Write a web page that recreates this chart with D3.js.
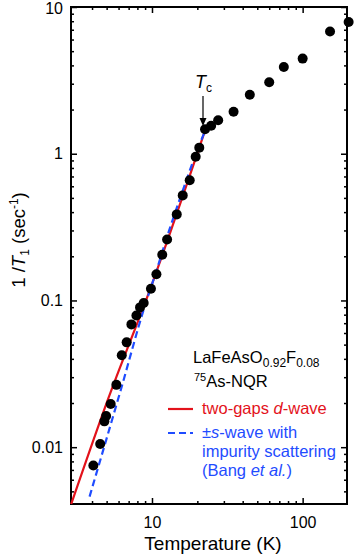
<!DOCTYPE html>
<html>
<head>
<meta charset="utf-8">
<script src="https://cdn.jsdelivr.net/npm/d3@7"></script>
<style>
    body { margin: 0; background: #fff; }
    svg { display: block; font-family: "Liberation Sans", Arial, sans-serif; }
</style>
</head>
<body>
<div id="visualisatie"></div>
<script>
// measured 1/T1 points
var temps = [4.08, 4.53, 4.83, 4.96, 5.32, 5.8, 6.3, 6.79, 7.3, 7.88, 8.33, 8.81, 9.84, 10.7, 11.7,
    12.6, 14.6, 16.0, 17.8, 19.5, 20.6, 22.5, 24.7, 27.5, 34.8, 44.6, 60, 75, 100, 152, 202];
var rates = [0.0075, 0.0105, 0.015, 0.0163, 0.0197, 0.0266, 0.0423, 0.0518, 0.0687, 0.079, 0.0897, 0.096, 0.12, 0.151, 0.205,
    0.26, 0.386, 0.52, 0.66, 0.955, 1.1, 1.47, 1.55, 1.69, 1.93, 2.52, 3.07, 3.9, 4.45, 6.8, 7.9];

// two-gaps d-wave fit (red)
var redT = [2.91, 5.13, 9.74, 20.6, 22.3];
var redRate = [0.0041, 0.0215, 0.12, 1.1, 1.4];

// +-s-wave with impurity scattering (blue dashed)
var blueT = [3.85, 6.2, 9, 10.5, 13, 16, 19, 22.3];
var blueRate = [0.0046, 0.0245, 0.093, 0.15, 0.3, 0.56, 0.92, 1.4];

var xMajor = [10, 100];
var xMinor = [4, 5, 6, 7, 8, 9, 20, 30, 40, 50, 60, 70, 80, 90];
var yMajor = [0.01, 0.1, 1, 10];
var yMinor = [0.005, 0.006, 0.007, 0.008, 0.009, 0.02, 0.03, 0.04, 0.05, 0.06, 0.07, 0.08, 0.09,
    0.2, 0.3, 0.4, 0.5, 0.6, 0.7, 0.8, 0.9, 2, 3, 4, 5, 6, 7, 8, 9];

(function () {
    "use strict";

    var width = 354, height = 556,
        left = 71, right = 347, top = 7, bottom = 504;

    var svg = d3.select('#visualisatie').append('svg')
        .attr('width', width)
        .attr('height', height);

    var x = d3.scaleLog().domain([2.9, 197]).range([left, right]);
    var y = d3.scaleLog().domain([0.0041, 10]).range([bottom, top]);

    // axes with ticks pointing inward
    function addAxis(axis, tx, ty) {
        var g = svg.append('g')
            .attr('transform', 'translate(' + tx + ',' + ty + ')')
            .call(axis);
        g.select('.domain').remove();
        g.selectAll('.tick line').attr('stroke', '#000').attr('stroke-width', 1.5);
        g.selectAll('.tick text').attr('fill', '#000').style('font-size', '16px');
        return g;
    }

    addAxis(d3.axisBottom(x).tickValues(xMajor).tickSizeInner(-6).tickSizeOuter(0).tickPadding(13).tickFormat(d3.format('d')), 0, bottom);
    addAxis(d3.axisBottom(x).tickValues(xMinor).tickSizeInner(-3).tickSizeOuter(0).tickFormat(''), 0, bottom);
    addAxis(d3.axisTop(x).tickValues(xMajor).tickSizeInner(-6).tickSizeOuter(0).tickFormat(''), 0, top);
    addAxis(d3.axisTop(x).tickValues(xMinor).tickSizeInner(-3).tickSizeOuter(0).tickFormat(''), 0, top);

    var yl = addAxis(d3.axisLeft(y).tickValues(yMajor).tickSizeInner(-6).tickSizeOuter(0).tickPadding(8).tickFormat(d => String(d)), left, 0);
    // keep the top label inside the picture
    yl.selectAll('.tick text').filter(d => d === 10).attr('dy', '0.42em');
    addAxis(d3.axisLeft(y).tickValues(yMinor).tickSizeInner(-3).tickSizeOuter(0).tickFormat(''), left, 0);
    addAxis(d3.axisRight(y).tickValues(yMajor).tickSizeInner(-6).tickSizeOuter(0).tickFormat(''), right, 0);
    addAxis(d3.axisRight(y).tickValues(yMinor).tickSizeInner(-3).tickSizeOuter(0).tickFormat(''), right, 0);

    // frame
    svg.append('rect')
        .attr('x', left).attr('y', top)
        .attr('width', right - left).attr('height', bottom - top)
        .attr('fill', 'none')
        .attr('stroke', '#000')
        .attr('stroke-width', 2);

    // fit curves
    var line = d3.line()
        .x(d => x(d[0]))
        .y(d => y(d[1]))
        .curve(d3.curveMonotoneX);

    svg.append('path')
        .datum(d3.zip(redT, redRate))
        .attr('d', line)
        .attr('fill', 'none')
        .attr('stroke', '#e3121b')
        .attr('stroke-width', 2.2);

    svg.append('path')
        .datum(d3.zip(blueT, blueRate))
        .attr('d', line)
        .attr('fill', 'none')
        .attr('stroke', '#1f4cff')
        .attr('stroke-width', 2.2)
        .attr('stroke-dasharray', '7,4');

    // data points
    svg.append('g').selectAll('circle')
        .data(d3.zip(temps, rates))
        .enter().append('circle')
        .attr('cx', d => x(d[0]))
        .attr('cy', d => y(d[1]))
        .attr('r', 5)
        .attr('fill', '#000');

    // Tc marker
    var tc = svg.append('text')
        .attr('x', 195).attr('y', 88)
        .style('font-size', '18px');
    tc.append('tspan').style('font-style', 'italic').text('T');
    tc.append('tspan').attr('dy', 4).style('font-size', '12px').text('c');

    svg.append('line')
        .attr('x1', 203).attr('x2', 203)
        .attr('y1', 96).attr('y2', 121)
        .attr('stroke', '#000').attr('stroke-width', 1.2);
    svg.append('path')
        .attr('d', 'M199.5,118 L203,126 L206.5,118 Z')
        .attr('fill', '#000');

    // legend
    var t1 = svg.append('text').attr('x', 193).attr('y', 363).style('font-size', '16.5px');
    t1.append('tspan').text('LaFeAsO');
    t1.append('tspan').attr('dy', 4).style('font-size', '12px').text('0.92');
    t1.append('tspan').attr('dy', -4).text('F');
    t1.append('tspan').attr('dy', 4).style('font-size', '12px').text('0.08');

    var t2 = svg.append('text').attr('x', 194).attr('y', 387).style('font-size', '16.5px');
    t2.append('tspan').attr('dy', -6).style('font-size', '11px').text('75');
    t2.append('tspan').attr('dy', 6).text('As-NQR');

    svg.append('line')
        .attr('x1', 168).attr('x2', 193).attr('y1', 409).attr('y2', 409)
        .attr('stroke', '#e3121b').attr('stroke-width', 2.2);
    var t3 = svg.append('text').attr('x', 202).attr('y', 414)
        .attr('fill', '#e3121b').style('font-size', '16.5px');
    t3.append('tspan').text('two-gaps ');
    t3.append('tspan').style('font-style', 'italic').text('d');
    t3.append('tspan').text('-wave');

    svg.append('line')
        .attr('x1', 168).attr('x2', 193).attr('y1', 433).attr('y2', 433)
        .attr('stroke', '#1f4cff').attr('stroke-width', 2.2)
        .attr('stroke-dasharray', '7,4');
    var t4 = svg.append('text').attr('x', 202).attr('y', 438)
        .attr('fill', '#1f4cff').style('font-size', '16.5px');
    t4.append('tspan').text('\u00b1');
    t4.append('tspan').style('font-style', 'italic').text('s');
    t4.append('tspan').text('-wave with');
    svg.append('text').attr('x', 202).attr('y', 457)
        .attr('fill', '#1f4cff').style('font-size', '16.5px')
        .text('impurity scattering');
    var t6 = svg.append('text').attr('x', 202).attr('y', 476)
        .attr('fill', '#1f4cff').style('font-size', '16.5px');
    t6.append('tspan').text('(Bang ');
    t6.append('tspan').style('font-style', 'italic').text('et al.');
    t6.append('tspan').text(')');

    // axis titles
    svg.append('text')
        .attr('x', 213).attr('y', 550)
        .attr('text-anchor', 'middle')
        .style('font-size', '19px')
        .text('Temperature (K)');

    var yt = svg.append('text')
        .attr('transform', 'translate(25,240) rotate(-90)')
        .attr('text-anchor', 'middle')
        .style('font-size', '18.5px');
    yt.append('tspan').text('1 /');
    yt.append('tspan').style('font-style', 'italic').text('T');
    yt.append('tspan').attr('dy', 4).style('font-size', '12px').text('1');
    yt.append('tspan').attr('dy', -4).text(' (sec');
    yt.append('tspan').attr('dy', -7).style('font-size', '12px').text('-1');
    yt.append('tspan').attr('dy', 7).text(')');
})();
</script>
</body>
</html>
